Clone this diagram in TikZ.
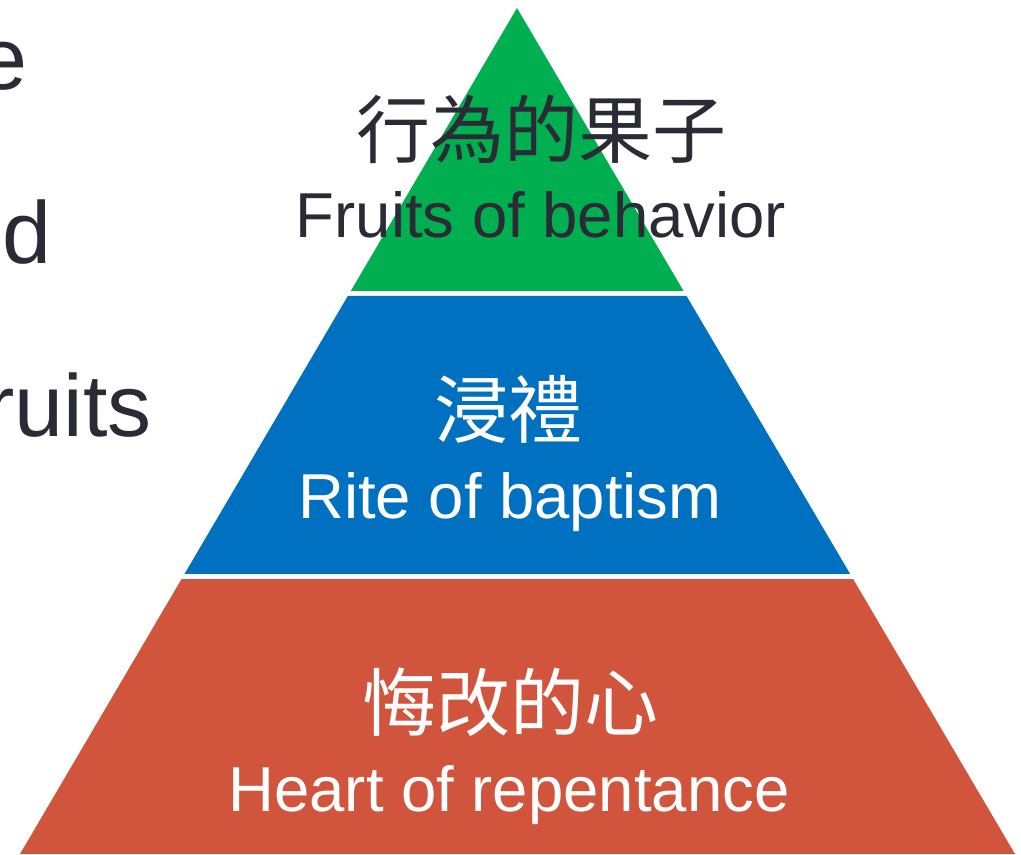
\documentclass[tikz,border=0pt]{standalone}
\usepackage{fontspec}
\setmainfont{Liberation Sans}
\newfontfamily\cjk{Noto Sans CJK TC}
\usetikzlibrary{calc}

\definecolor{fruitgreen}{HTML}{00B050}
\definecolor{riteblue}{HTML}{0070C0}
\definecolor{heartred}{HTML}{D1553D}
\definecolor{inkgray}{HTML}{2B2B36}

\tikzset{
  zh/.style = {anchor=base, inner sep=0pt,
    font=\cjk\fontsize{55.5}{60}\selectfont},
  en/.style = {anchor=base, inner sep=0pt,
    font=\fontsize{47.6}{57}\selectfont},
  cutoff/.style = {anchor=base east, inner sep=0pt, text=inkgray,
    font=\fontsize{66}{80}\selectfont},
}

\begin{document}
\begin{tikzpicture}[x=0.75pt, y=-0.75pt]
  \useasboundingbox (0,0) rectangle (1021,854);

  \coordinate (T) at (517,8);
  \coordinate (L) at (20,854);
  \coordinate (R) at (1015,854);
  % one triangle, cut in three bands

  \fill[fruitgreen] (T)
    -- ($(T)!0.3345!(R)$) -- ($(T)!0.3345!(L)$) -- cycle;
  \fill[riteblue]
    ($(T)!0.3404!(L)$) -- ($(T)!0.3404!(R)$)
    -- ($(T)!0.669!(R)$) -- ($(T)!0.669!(L)$) -- cycle;
  \fill[heartred]
    ($(T)!0.675!(L)$) -- ($(T)!0.675!(R)$)
    -- (R) -- (L) -- cycle;

  % band labels
  \node[zh, text=inkgray] (fruitzh) at (541,157) {行為的果子};
  \node[en, text=inkgray] (fruiten) at (541,237) {Fruits of behavior};
  \node[zh, text=white] (ritezh) at (508,437) {浸禮};
  \node[en, text=white] (riteen) at (510,518) {Rite of baptism};
  \node[zh, text=white] (heartzh) at (510,730) {悔改的心};
  \node[en, text=white] (hearten) at (509,811) {Heart of repentance};

  % words cut off at the left edge
  \node[cutoff] (cute) at (28,89) {e};
  \node[cutoff] (cutd) at (52,263) {d};
  \node[cutoff] (cutruits) at (152,436) {ruits};
\end{tikzpicture}
\end{document}
